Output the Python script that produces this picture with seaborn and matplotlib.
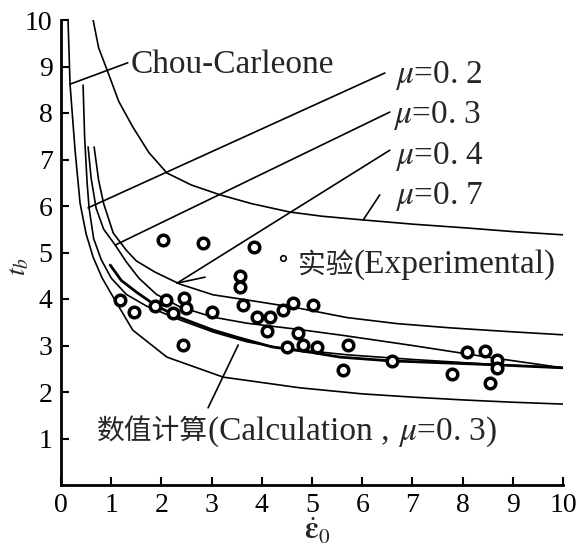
import numpy as np
import pandas as pd
import matplotlib
matplotlib.use("Agg")
import matplotlib.pyplot as plt
import seaborn as sns

# ---------------- data ----------------
exp_x = [1.18, 1.45, 1.87, 2.09, 2.23, 2.45, 2.49, 3.01, 2.43, 2.03, 2.83, 3.84,
         3.57, 3.57, 3.63, 3.90, 4.16, 4.10, 4.42, 4.62, 5.02, 4.50, 4.72, 4.82,
         5.10, 5.62, 5.72, 6.59, 7.79, 8.09, 8.45, 8.69, 8.69, 8.55]
exp_y = [3.98, 3.72, 3.85, 3.98, 3.70, 4.02, 3.81, 3.72, 3.01, 5.27, 5.20, 5.12,
         4.49, 4.26, 3.87, 3.61, 3.61, 3.31, 3.76, 3.91, 3.87, 2.97, 3.27, 3.01,
         2.97, 2.47, 3.01, 2.67, 2.39, 2.86, 2.88, 2.69, 2.52, 2.19]

chou_x = [0.14, 0.18, 0.28, 0.38, 0.50, 0.64, 0.82, 1.04, 1.43, 2.11, 3.23, 4.76, 6.0, 7.0, 8.0, 9.0, 10.0]
chou_y = [10.0, 8.62, 7.20, 6.06, 5.40, 4.90, 4.45, 4.04, 3.33, 2.75, 2.32, 2.09, 1.96, 1.89, 1.83, 1.78, 1.74]

mu07_x = [0.64, 0.75, 0.92, 1.15, 1.43, 1.75, 2.11, 2.60, 3.17, 3.80, 4.56, 5.20, 6.02, 7.0, 8.05, 9.0, 10.0]
mu07_y = [10.0, 9.40, 8.92, 8.25, 7.70, 7.15, 6.71, 6.45, 6.24, 6.05, 5.87, 5.78, 5.70, 5.61, 5.53, 5.45, 5.38]

mu04_x = [0.66, 0.75, 0.85, 1.04, 1.30, 1.50, 1.87, 2.37, 3.03, 3.70, 4.70, 5.70, 6.70, 7.75, 8.90, 10.0]
mu04_y = [7.27, 6.55, 6.05, 5.42, 5.05, 4.82, 4.58, 4.32, 4.09, 3.98, 3.81, 3.60, 3.47, 3.38, 3.30, 3.23]

mu03_x = [0.54, 0.60, 0.70, 0.85, 1.08, 1.30, 1.55, 1.90, 2.37, 3.03, 3.70, 4.70, 5.60, 7.00, 8.50, 10.0]
mu03_y = [7.27, 6.60, 5.95, 5.50, 5.16, 4.80, 4.45, 4.10, 3.83, 3.61, 3.48, 3.35, 3.22, 3.00, 2.75, 2.52]

mu02_x = [0.44, 0.47, 0.52, 0.56, 0.65, 0.80, 1.00, 1.30, 1.70, 2.37, 3.03, 3.70, 4.36, 5.70, 7.00, 8.50, 10.0]
mu02_y = [8.60, 7.50, 6.50, 5.95, 5.30, 4.85, 4.45, 4.10, 3.85, 3.55, 3.29, 3.08, 2.95, 2.80, 2.70, 2.60, 2.52]

calc_x = [0.98, 1.20, 1.50, 1.90, 2.37, 3.03, 3.50, 4.20, 5.00, 5.56, 6.55, 7.80, 8.75, 10.0]
calc_y = [4.73, 4.40, 4.15, 3.85, 3.60, 3.33, 3.18, 2.97, 2.85, 2.75, 2.67, 2.62, 2.58, 2.52]

x_ticks = [0, 1, 2, 3, 4, 5, 6, 7, 8, 9, 10]
y_ticks = [1, 2, 3, 4, 5, 6, 7, 8, 9, 10]

# ---------------- style ----------------
sns.set_theme(style="ticks")
fam = ["Liberation Serif", "Noto Sans CJK SC", "DejaVu Sans"]
plt.rcParams["font.family"] = fam
plt.rcParams["mathtext.fontset"] = "stix"
FS = 24      # latin annotation text
FS_CJK = 20  # chinese characters
FS_TICK = 20

fig = plt.figure(figsize=(5.8, 5.55), dpi=100)
ax = fig.add_axes([61 / 580, 1 - 485 / 555, 502 / 580, 465 / 555])

curves = [(chou_x, chou_y, 1.2), (mu07_x, mu07_y, 1.2), (mu04_x, mu04_y, 1.2),
          (mu03_x, mu03_y, 1.2), (mu02_x, mu02_y, 1.2), (calc_x, calc_y, 2.0)]
for cx, cy, lw in curves:
    sns.lineplot(x=cx, y=cy, ax=ax, color="black", linewidth=lw,
                 sort=False, estimator=None)

sns.scatterplot(x=exp_x, y=exp_y, ax=ax, s=58, marker="o",
                facecolor="white", edgecolor="black", linewidth=2.5, zorder=5)

ax.set_xlim(0, 10)
ax.set_ylim(0, 10)
ax.set_xticks(x_ticks)
ax.set_xticklabels([str(t) for t in x_ticks])
ax.set_yticks(y_ticks)
ax.set_yticklabels([str(t) for t in y_ticks])
ax.tick_params(direction="in", length=6, width=1.5, labelsize=FS_TICK, colors="black", pad=6)
for lab in ax.get_xticklabels() + ax.get_yticklabels():
    lab.set_family(fam)
for s in ["top", "right"]:
    ax.spines[s].set_visible(False)
for s in ["left", "bottom"]:
    ax.spines[s].set_linewidth(2.0)
    ax.spines[s].set_color("black")

ax.set_ylabel("$t_b$", fontsize=20, rotation=90)
ax.yaxis.set_label_coords(-0.058, 0.47)
ax.set_xlabel(r"$\dot{\boldsymbol{\varepsilon}}_0$", fontsize=22)
ax.xaxis.set_label_coords(0.51, -0.068)

lk = dict(color="black", lw=1.2)
# leader lines and labels
ax.plot([0.18, 1.33], [8.62, 9.08], **lk)
ax.text(1.38, 9.03, "Chou-Carleone", fontsize=FS, va="center", ha="left", family=fam)

ax.plot([0.54, 6.45], [5.96, 8.86], **lk)
ax.text(6.65, 8.80, "$\\mu$=0. 2", fontsize=FS, va="center", ha="left", family=fam)
ax.plot([1.08, 6.55], [5.16, 8.02], **lk)
ax.text(6.62, 7.95, "$\\mu$=0. 3", fontsize=FS, va="center", ha="left", family=fam)
ax.plot([2.31, 6.55], [4.34, 7.20], **lk)
ax.plot([2.31, 2.87], [4.34, 4.47], **lk)
ax.text(6.65, 7.07, "$\\mu$=0. 4", fontsize=FS, va="center", ha="left", family=fam)
ax.plot([6.02, 6.35], [5.70, 6.24], **lk)
ax.text(6.65, 6.20, "$\\mu$=0. 7", fontsize=FS, va="center", ha="left", family=fam)

ax.plot([4.42], [4.88], marker="o", ms=4, mfc="white", mec="black", mew=1.2)


def chain(x0, y0, parts):
    """Place text pieces one after another on a common baseline."""
    fig.canvas.draw()
    r = fig.canvas.get_renderer()
    inv = ax.transData.inverted()
    x = x0
    for s, fs in parts:
        t = ax.text(x, y0, s, fontsize=fs, va="baseline", ha="left", family=fam)
        bb = t.get_window_extent(r)
        (xa, _), (xb, _) = inv.transform([[bb.x0, bb.y0], [bb.x1, bb.y0]])
        x = x + (xb - xa)


chain(4.72, 4.57, [("实验", FS_CJK), ("(Experimental)", FS)])

ax.plot([3.53, 2.93], [3.01, 1.66], **lk)
chain(0.72, 0.97, [("数值计算", FS_CJK), ("(Calculation , ", FS), ("$\\mu$=0. 3)", FS)])

fig.savefig("out.png", dpi=100, facecolor="white")
